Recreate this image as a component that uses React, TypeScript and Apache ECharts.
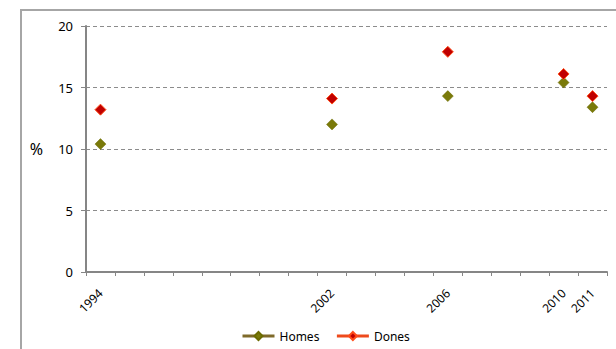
import React, { useEffect, useRef } from "react";
import * as echarts from "echarts";

const years = ["1994","1995","1996","1997","1998","1999","2000","2001","2002","2003","2004","2005","2006","2007","2008","2009","2010","2011"];
const labeledYears = ["1994", "2002", "2006", "2010", "2011"];
const homes: (number | null)[] = [10.4, null, null, null, null, null, null, null, 12.0, null, null, null, 14.3, null, null, null, 15.4, 13.4];
const dones: (number | null)[] = [13.2, null, null, null, null, null, null, null, 14.1, null, null, null, 17.9, null, null, null, 16.1, 14.3];
const yTicks = [0, 5, 10, 15, 20];

export default function App() {
  const ref = useRef<HTMLDivElement>(null);
  useEffect(() => {
    if (!ref.current) return;
    const chart = echarts.init(ref.current, null, { renderer: "svg" });
    const font = "Noto Sans";
    chart.setOption({
      animation: false,
      textStyle: { fontFamily: font },
      graphic: [
        {
          type: "rect",
          shape: { x: 21, y: 10, width: 700, height: 400 },
          style: { fill: "none", stroke: "#a6a6a6", lineWidth: 2 },
          silent: true,
        },
      ],
      grid: { left: 86, top: 26, right: 9, bottom: 77 },
      legend: {
        left: 236,
        top: 325,
        itemWidth: 32,
        itemHeight: 10,
        itemGap: 16,
        textStyle: { fontSize: 12, color: "#000", fontFamily: font },
        data: [
          { name: "Homes", itemStyle: { color: "#7a7a0a" }, lineStyle: { color: "#7f6a2a", width: 3, opacity: 1 } },
          { name: "Dones", itemStyle: { color: "#c00000" }, lineStyle: { color: "#ee4a1c", width: 3, opacity: 1 } },
        ],
      },
      xAxis: {
        type: "category",
        data: years,
        boundaryGap: true,
        axisLine: { lineStyle: { color: "#868686", width: 2 } },
        axisTick: { show: true, length: 4, lineStyle: { color: "#868686" } },
        axisLabel: {
          interval: 0,
          rotate: 45,
          margin: 19,
          fontSize: 12,
          color: "#000",
          fontFamily: font,
          formatter: (v: string) => (labeledYears.includes(v) ? v : ""),
        },
        splitLine: { show: false },
      },
      yAxis: {
        type: "value",
        min: yTicks[0],
        max: yTicks[yTicks.length - 1],
        interval: 5,
        name: "%",
        nameLocation: "middle",
        nameRotate: 0,
        nameGap: 43,
        nameTextStyle: { fontSize: 16, color: "#000", fontFamily: font },
        axisLine: { show: true, lineStyle: { color: "#868686", width: 2 } },
        axisTick: { show: true, length: 5, lineStyle: { color: "#868686" } },
        axisLabel: { fontSize: 13, color: "#000", margin: 13, fontFamily: font },
        splitLine: { show: true, lineStyle: { color: "#8c8c8c", type: [4, 3], width: 1 } },
      },
      series: [
        {
          name: "Homes",
          type: "line",
          data: homes,
          symbol: "diamond",
          symbolSize: 11,
          showSymbol: true,
          connectNulls: false,
          lineStyle: { width: 0, opacity: 0 },
          itemStyle: { color: "#7a7a0a", borderColor: "#6b6b00", borderWidth: 0.5 },
        },
        {
          name: "Dones",
          type: "line",
          data: dones,
          symbol: "diamond",
          symbolSize: 11,
          showSymbol: true,
          connectNulls: false,
          lineStyle: { width: 0, opacity: 0 },
          itemStyle: { color: "#c00000", borderColor: "#ff4d1a", borderWidth: 1 },
        },
      ],
    });
    return () => chart.dispose();
  }, []);
  return (
    <div
      ref={ref}
      style={{ position: "absolute", left: 0, top: 0, width: 616, height: 349, background: "#fff" }}
    />
  );
}
